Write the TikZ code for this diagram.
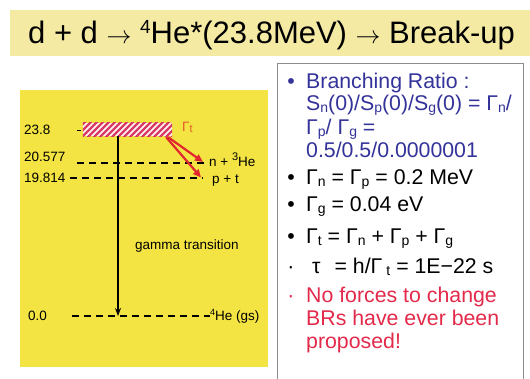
\documentclass[tikz,border=0pt]{standalone}
\usepackage{fontspec}
\setmainfont{Liberation Sans}
\usetikzlibrary{arrows.meta,calc}

\definecolor{bandyellow}{HTML}{F4EAA4}
\definecolor{panelyellow}{HTML}{F3E443}
\definecolor{hatchred}{HTML}{D93A64}
\definecolor{decayred}{HTML}{E0262E}
\definecolor{gammaorange}{HTML}{E8562A}
\definecolor{brblue}{HTML}{33339A}
\definecolor{warnred}{HTML}{E32A4A}
\definecolor{boxgray}{HTML}{8C8C8C}

\newcommand{\lowsub}[1]{\raisebox{-1.5pt}{\fontsize{14}{14}\selectfont #1}}
\newcommand{\upsup}[1]{\raisebox{6pt}{\fontsize{11}{11}\selectfont #1}}

\tikzset{
  lvl/.style={font=\fontsize{13.5}{13.5}\selectfont,anchor=base west,inner sep=0pt},
  level/.style={line width=1.9pt,dash pattern=on 7pt off 5pt},
  decay/.style={draw=decayred,line width=2.2pt,-{Triangle[length=8pt,width=7pt]}},
  gammaline/.style={line width=1.8pt,-{Stealth[length=8pt,width=6pt]}},
  item/.style={font=\fontsize{21.3}{21.3}\selectfont,anchor=base west,inner sep=0pt},
  dotmark/.style={font=\fontsize{21.3}{21.3}\selectfont,anchor=base,inner sep=0pt}
}

\begin{document}
\begin{tikzpicture}[x=1pt,y=-1pt,line join=round]
  \useasboundingbox (0,0) rectangle (530,379);
  % title band
  \fill[bandyellow] (10,10) rectangle (530,56);
  \node[anchor=base west,inner sep=0pt,font=\fontsize{31}{31}\selectfont] (title) at (28,43.5)
    {d + d $\rightarrow$ \raisebox{10pt}{\fontsize{19}{19}\selectfont 4}He*(23.8MeV) $\rightarrow$ Break-up};

  % level scheme
  \fill[panelyellow] (20,90) rectangle (268,367);
  \node[minimum width=89pt,minimum height=13.5pt,inner sep=0pt,fill=white!85!pink] (bar) at (127.5,129.3) {};
  \begin{scope}
    \clip (bar.south west) rectangle (bar.north east);
    \foreach \i in {-20,-14,...,100}
      \draw[hatchred,line width=2.3pt] ($(bar.south west)+(\i,2)$) -- ++(20,-20);
  \end{scope}
  \draw[line width=1.8pt] (77,130.5) -- (80.5,130.5);

  \node[lvl] (e0) at (24,135) {23.8};
  \node[lvl] (e1) at (24,162) {20.577};
  \node[lvl] (e2) at (24,183) {19.814};
  \node[lvl] (e3) at (28,320) {0.0};

  \node[lvl] (nhe) at (209,167) {n + \upsup{3}He};
  \node[lvl] (pt) at (212,184) {p + t};
  \node[lvl] (gs) at (210,320) {\raisebox{5pt}{\fontsize{9}{9}\selectfont 4}He (gs)};
  \node[lvl,text=gammaorange] (gt) at (182,132) {Γ\raisebox{-1pt}{\fontsize{11}{11}\selectfont t}};
  \node[lvl] (gtr) at (135,250) {gamma transition};

  \coordinate (l1) at (77,163);
  \coordinate (l2) at (70,178);
  \coordinate (l3) at (72,316);
  \draw[level] (l1) -- (l1 -| nhe.west);
  \draw[level] (l2) -- ($(l2 -| pt.west)+(-9,0)$);
  \draw[level] (l3) -- (l3 -| gs.west);

  \coordinate (gtop) at (118,136);
  \coordinate (gend) at (118,316);
  \draw[gammaline] (gtop) -- (gend);
  \draw[decay] ($(bar.south east)+(-4,1)$) -- ($(l1 -| nhe.west)+(-6,-1)$);
  \draw[decay] ($(bar.south east)+(-6,1)$) -- ($(l2 -| pt.west)+(-11,-0.5)$);

  % text box
  \draw[boxgray,line width=1pt,fill=white] (277,64) rectangle (523,390);
  \node[dotmark,text=brblue] (b1) at (291,89) {•};
  \node[item,text=brblue] (t1) at (306,89) {Branching Ratio :};
  \node[item,text=brblue] (t2) at (306,111)
    {S\lowsub{n}(0)/S\lowsub{p}(0)/S\lowsub{g}(0) = Γ\lowsub{n}/};
  \node[item,text=brblue] (t3) at (306,135) {Γ\lowsub{p}/ Γ\lowsub{g} =};
  \node[item,text=brblue] (t4) at (306,158) {0.5/0.5/0.0000001};
  \node[dotmark] (b2) at (291,185) {•};
  \node[item] (t5) at (306,185) {Γ\lowsub{n} = Γ\lowsub{p} = 0.2 MeV};
  \node[dotmark] (b3) at (291,212) {•};
  \node[item] (t6) at (306,212) {Γ\lowsub{g} = 0.04 eV};
  \node[dotmark] (b4) at (291,244) {•};
  \node[item] (t7) at (306,244) {Γ\lowsub{t} = Γ\lowsub{n} + Γ\lowsub{p} + Γ\lowsub{g}};
  \node[dotmark] (b5) at (291,274) {·};
  \node[item] (t8) at (306,274) {\hspace{6pt}τ\hspace{14pt}= h/Γ\hspace{4pt}\lowsub{t} = 1E−22 s};
  \node[dotmark,text=warnred] (b6) at (291,302) {·};
  \node[item,text=warnred] (t9) at (306,302) {No forces to change};
  \node[item,text=warnred] (t10) at (306,325) {BRs have ever been};
  \node[item,text=warnred] (t11) at (306,348) {proposed!};
\end{tikzpicture}
\end{document}
